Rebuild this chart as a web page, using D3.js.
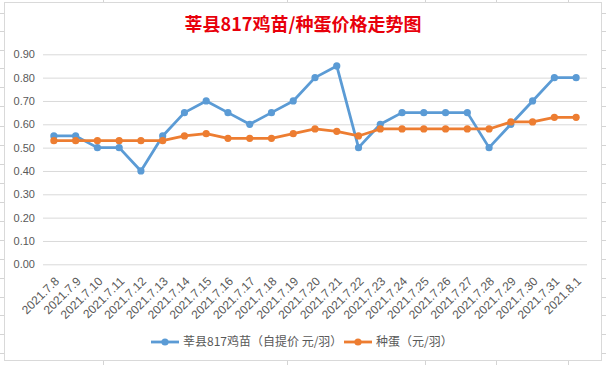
<!DOCTYPE html>
<html>
<head>
<meta charset="utf-8">
<script src="https://cdn.jsdelivr.net/npm/d3@7"></script>
<style>
  html, body { margin: 0; padding: 0; background: #fff; }
  svg { display: block; }
  text { font-family: "Noto Sans CJK SC", "Liberation Sans", sans-serif; }
</style>
</head>
<body>
<div id="chart"></div>
<script>
  // chart data
  var categories = ["2021.7.8", "2021.7.9", "2021.7.10", "2021.7.11", "2021.7.12", "2021.7.13",
    "2021.7.14", "2021.7.15", "2021.7.16", "2021.7.17", "2021.7.18", "2021.7.19", "2021.7.20",
    "2021.7.21", "2021.7.22", "2021.7.23", "2021.7.24", "2021.7.25", "2021.7.26", "2021.7.27",
    "2021.7.28", "2021.7.29", "2021.7.30", "2021.7.31", "2021.8.1"];
  var chickValues = [0.55, 0.55, 0.50, 0.50, 0.40, 0.55, 0.65, 0.70, 0.65, 0.60, 0.65, 0.70, 0.80,
    0.85, 0.50, 0.60, 0.65, 0.65, 0.65, 0.65, 0.50, 0.60, 0.70, 0.80, 0.80];
  var eggValues = [0.53, 0.53, 0.53, 0.53, 0.53, 0.53, 0.55, 0.56, 0.54, 0.54, 0.54, 0.56, 0.58,
    0.57, 0.55, 0.58, 0.58, 0.58, 0.58, 0.58, 0.58, 0.61, 0.61, 0.63, 0.63];
  var yTicks = [0, 0.1, 0.2, 0.3, 0.4, 0.5, 0.6, 0.7, 0.8, 0.9];
  var seriesNames = ["莘县817鸡苗（自提价 元/羽）", "种蛋（元/羽）"];
  var titleText = "莘县817鸡苗/种蛋价格走势图";

  var colors = ["#5b9bd5", "#ed7d31"];
  var width = 606, height = 365;

  var svg = d3.select("#chart")
    .append("svg")
    .attr("width", width)
    .attr("height", height);

  // spreadsheet cell lines behind the chart
  var sheet = svg.append("g").attr("stroke", "#d4d4d4").attr("stroke-width", 1);
  [13, 31, 50, 68, 87, 106, 126, 145, 164, 183, 202, 221, 240, 259, 278, 297, 315, 334, 353].forEach(function (y) {
    sheet.append("line").attr("x1", 0).attr("x2", width).attr("y1", y + 0.5).attr("y2", y + 0.5);
  });
  [103, 287, 425, 496, 568].forEach(function (x) {
    sheet.append("line").attr("x1", x + 0.5).attr("x2", x + 0.5).attr("y1", 0).attr("y2", height);
  });

  // chart area
  svg.append("rect")
    .attr("x", 4.5)
    .attr("y", 2.5)
    .attr("width", 597)
    .attr("height", 358)
    .attr("fill", "#fff")
    .attr("stroke", "#d9d9d9");

  svg.append("text")
    .attr("x", 303)
    .attr("y", 31)
    .attr("text-anchor", "middle")
    .attr("fill", "#e8000b")
    .style("font-size", "18px")
    .style("font-weight", "bold")
    .text(titleText);

  var x = d3.scaleBand()
    .domain(categories)
    .range([43, 587]);

  var y = d3.scaleLinear()
    .domain([0, 0.9])
    .range([264.3, 54.3]);

  var yAxis = d3.axisLeft()
    .scale(y)
    .tickValues(yTicks)
    .tickSize(-(587 - 43))
    .tickPadding(8)
    .tickFormat(d3.format(".2f"));

  var gy = svg.append("g")
    .attr("class", "y axis")
    .attr("transform", "translate(43,0)")
    .call(yAxis);
  gy.select(".domain").remove();
  gy.selectAll("line").attr("stroke", "#d9d9d9");
  gy.selectAll("text")
    .attr("fill", "#595959")
    .style("font-size", "11px")
    .style("font-family", "'Liberation Sans', sans-serif");

  // category labels
  svg.append("g")
    .attr("class", "x axis")
    .selectAll("text")
    .data(categories)
    .enter()
    .append("text")
    .attr("transform", function (d) {
      return "translate(" + (x(d) + x.bandwidth() / 2 + 3) + ",279) rotate(-45)";
    })
    .attr("text-anchor", "end")
    .attr("dy", "0.35em")
    .attr("fill", "#595959")
    .style("font-size", "12px")
    .style("font-family", "'Liberation Sans', sans-serif")
    .text(function (d) { return d; });

  var series = [chickValues, eggValues];

  var line = d3.line()
    .x(function (d, i) { return x(categories[i]) + x.bandwidth() / 2; })
    .y(function (d) { return y(d); });

  series.forEach(function (values, k) {
    var g = svg.append("g").attr("class", "series");
    g.append("path")
      .datum(values)
      .attr("d", line)
      .attr("fill", "none")
      .attr("stroke", colors[k])
      .attr("stroke-width", 2.8)
      .attr("stroke-linejoin", "round");
    g.selectAll("circle")
      .data(values)
      .enter()
      .append("circle")
      .attr("cx", function (d, i) { return x(categories[i]) + x.bandwidth() / 2; })
      .attr("cy", function (d) { return y(d); })
      .attr("r", 3.6)
      .attr("fill", colors[k]);
  });

  // legend
  var legendX = [151, 344];
  var legend = svg.selectAll(".legend")
    .data(seriesNames)
    .enter().append("g")
    .attr("class", "legend")
    .attr("transform", function (d, i) {
      return "translate(" + legendX[i] + ",342)";
    });

  legend.append("line")
    .attr("x1", 0)
    .attr("x2", 28)
    .attr("stroke", function (d, i) { return colors[i]; })
    .attr("stroke-width", 2.8);

  legend.append("circle")
    .attr("cx", 14)
    .attr("r", 3.6)
    .attr("fill", function (d, i) { return colors[i]; });

  legend.append("text")
    .attr("x", 32)
    .attr("dy", "0.35em")
    .attr("fill", "#595959")
    .style("font-size", "12px")
    .text(function (d) { return d; });
</script>
</body>
</html>
